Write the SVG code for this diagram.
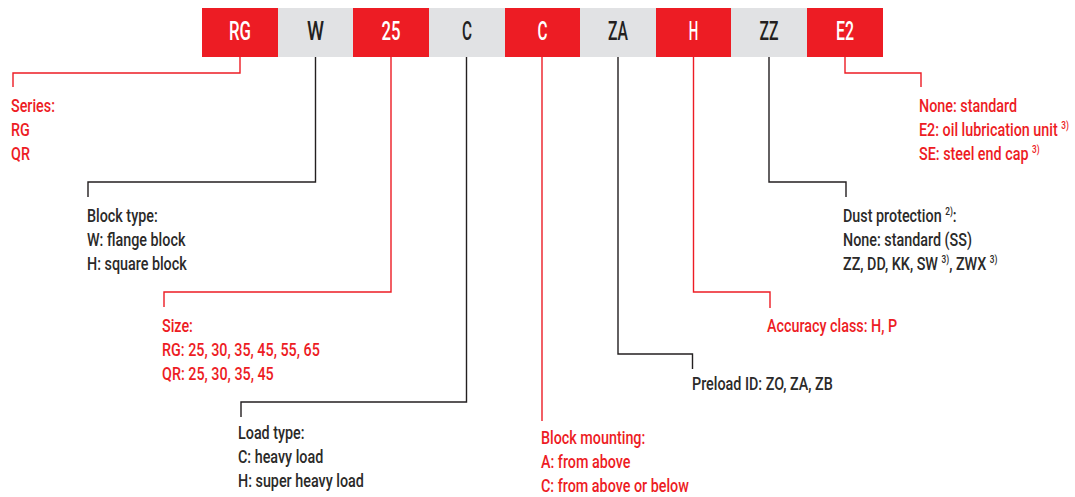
<svg xmlns="http://www.w3.org/2000/svg" width="1075" height="497" viewBox="0 0 1075 497">
<style>
.red{fill:#ED1C24}
.gray{fill:#E1E2E4}
.bl{font-family:Roboto,"Liberation Sans",sans-serif;font-weight:500;font-size:26px;text-anchor:middle}
.w{fill:#FFFFFF}
.k{fill:#231F20}
.t{font-family:Roboto,"Liberation Sans",sans-serif;font-weight:500;font-size:19px}
.tr{fill:#ED1C24}
.tk{fill:#2B2A29}
.sup{font-size:11px}
.lr{fill:none;stroke:#ED1C24;stroke-width:1.4}
.lk{fill:none;stroke:#231F20;stroke-width:1.4}
</style>
<rect width="1075" height="497" fill="#FFFFFF"/>
<g id="code">
<g id="box-rg"><rect class="red" x="202" y="8" width="76" height="49"/><text class="bl w" x="240" y="40" textLength="22" lengthAdjust="spacingAndGlyphs">RG</text></g>
<g id="box-w"><rect class="gray" x="278" y="8" width="75" height="49"/><text class="bl k" x="315.5" y="40" textLength="17" lengthAdjust="spacingAndGlyphs">W</text></g>
<g id="box-25"><rect class="red" x="353" y="8" width="76" height="49"/><text class="bl w" x="391" y="40" textLength="19" lengthAdjust="spacingAndGlyphs">25</text></g>
<g id="box-c1"><rect class="gray" x="429" y="8" width="76" height="49"/><text class="bl k" x="467" y="40" textLength="10" lengthAdjust="spacingAndGlyphs">C</text></g>
<g id="box-c2"><rect class="red" x="505" y="8" width="75" height="49"/><text class="bl w" x="542.5" y="40" textLength="10" lengthAdjust="spacingAndGlyphs">C</text></g>
<g id="box-za"><rect class="gray" x="580" y="8" width="76" height="49"/><text class="bl k" x="618" y="40" textLength="20" lengthAdjust="spacingAndGlyphs">ZA</text></g>
<g id="box-h"><rect class="red" x="656" y="8" width="75" height="49"/><text class="bl w" x="693.5" y="40" textLength="9.5" lengthAdjust="spacingAndGlyphs">H</text></g>
<g id="box-zz"><rect class="gray" x="731" y="8" width="76" height="49"/><text class="bl k" x="769" y="40" textLength="19" lengthAdjust="spacingAndGlyphs">ZZ</text></g>
<g id="box-e2"><rect class="red" x="807" y="8" width="76" height="49"/><text class="bl w" x="845" y="40" textLength="18" lengthAdjust="spacingAndGlyphs">E2</text></g>
</g>
<g id="connectors">
<polyline class="lr" points="240,57 240,73 13,73 13,87"/>
<polyline class="lk" points="315.5,57 315.5,182 88,182 88,197"/>
<polyline class="lr" points="391,57 391,292 164,292 164,307"/>
<polyline class="lk" points="466.5,57 466.5,402 241,402 241,417"/>
<polyline class="lr" points="542,57 542,421"/>
<polyline class="lk" points="618,57 618,354 692.5,354 692.5,369"/>
<polyline class="lr" points="693.5,57 693.5,292 770,292 770,308"/>
<polyline class="lk" points="769,57 769,182 846,182 846,197"/>
<polyline class="lr" points="845,57 845,73 921,73 921,87"/>
</g>
<g id="series" class="t tr" transform="translate(11,0) scale(0.755,1)">
<text x="0" y="112">Series:</text>
<text x="0" y="136">RG</text>
<text x="0" y="160">QR</text>
</g>
<g id="block-type" class="t tk" transform="translate(87,0) scale(0.755,1)">
<text x="0" y="222">Block type:</text>
<text x="0" y="246">W: flange block</text>
<text x="0" y="270">H: square block</text>
</g>
<g id="size" class="t tr" transform="translate(162,0) scale(0.755,1)">
<text x="0" y="332">Size:</text>
<text x="0" y="356">RG: 25, 30, 35, 45, 55, 65</text>
<text x="0" y="380">QR: 25, 30, 35, 45</text>
</g>
<g id="load-type" class="t tk" transform="translate(238,0) scale(0.755,1)">
<text x="0" y="439">Load type:</text>
<text x="0" y="463">C: heavy load</text>
<text x="0" y="487">H: super heavy load</text>
</g>
<g id="block-mounting" class="t tr" transform="translate(541,0) scale(0.755,1)">
<text x="0" y="444">Block mounting:</text>
<text x="0" y="468">A: from above</text>
<text x="0" y="492">C: from above or below</text>
</g>
<g id="preload" class="t tk" transform="translate(692,0) scale(0.755,1)">
<text x="0" y="390">Preload ID: ZO, ZA, ZB</text>
</g>
<g id="accuracy" class="t tr" transform="translate(767,0) scale(0.755,1)">
<text x="0" y="332">Accuracy class: H, P</text>
</g>
<g id="dust" class="t tk" transform="translate(843,0) scale(0.755,1)">
<text x="0" y="222">Dust protection <tspan class="sup" dy="-7">2)</tspan><tspan dy="7">:</tspan></text>
<text x="0" y="246">None: standard (SS)</text>
<text x="0" y="270">ZZ, DD, KK, SW <tspan class="sup" dy="-7">3)</tspan><tspan dy="7">, ZWX </tspan><tspan class="sup" dy="-7">3)</tspan></text>
</g>
<g id="end-seal" class="t tr" transform="translate(919,0) scale(0.755,1)">
<text x="0" y="112">None: standard</text>
<text x="0" y="136">E2: oil lubrication unit <tspan class="sup" dy="-7">3)</tspan></text>
<text x="0" y="160">SE: steel end cap <tspan class="sup" dy="-7">3)</tspan></text>
</g>
</svg>
